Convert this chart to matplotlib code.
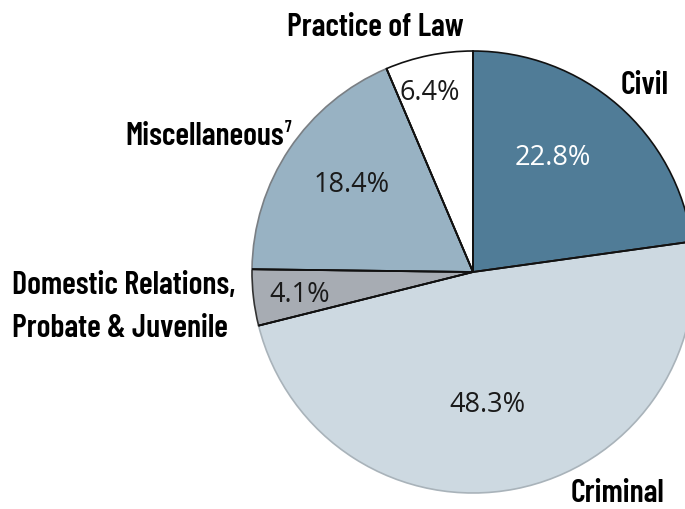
import numpy as np
import matplotlib
matplotlib.use("Agg")
import matplotlib.pyplot as plt

categories = ["Civil", "Criminal", "Domestic Relations,\nProbate & Juvenile", "Miscellaneous", "Practice of Law"]
values = [22.8, 48.3, 4.1, 18.4, 6.4]
pct_labels = ["22.8%", "48.3%", "4.1%", "18.4%", "6.4%"]
colors = ["#507c97", "#cdd9e1", "#a7acb3", "#98b2c3", "#ffffff"]
outer_edges = ["#111111", "#a9b3ba", "#333333", "#7a7f84", "#111111"]

W, H = 685, 510
R = 221.0
cx, cy = 473.0, 273.0

fig = plt.figure(figsize=(W / 100, H / 100), dpi=100)
ax = fig.add_axes([0, 0, 1, 1])

def px(x, y):
    return ((x - cx) / R, (cy - y) / R)

wedges, _ = ax.pie(values, colors=colors, startangle=90, counterclock=False,
                   radius=1.0, center=(0, 0), frame=False,
                   wedgeprops=dict(linewidth=1.2))
ax.set_xlim(-cx / R, (W - cx) / R)
ax.set_ylim(-(H - cy) / R, cy / R)
ax.set_aspect("auto")
ax.axis("off")
for w, ec in zip(wedges, outer_edges):
    w.set_edgecolor(ec)

# radial separators in black
for w in wedges:
    for ang in (w.theta1, w.theta2):
        a = np.deg2rad(ang)
        ax.plot([0, np.cos(a)], [0, np.sin(a)], color="#111111", lw=1.3,
                zorder=5, solid_capstyle="butt")

lab_font = dict(family=["Barlow Condensed", "DejaVu Sans"], fontweight="semibold",
                fontsize=23, color="black")
pct_font = dict(family=["Open Sans", "DejaVu Sans"], fontsize=19.5)

# category labels
ax.text(*px(645, 85), categories[0], ha="center", va="center", **lab_font)
ax.text(*px(618, 494), categories[1], ha="center", va="center", **lab_font)
ax.text(*px(12, 307), categories[2], ha="left", va="center", linespacing=1.6, **lab_font)
ax.text(*px(284, 137), categories[3], ha="right", va="center", **lab_font)
ax.text(*px(285, 127), "7", ha="left", va="center",
        **{**lab_font, "fontsize": 12})
ax.text(*px(375, 27), categories[4], ha="center", va="center", **lab_font)

# percent labels
pct_pos = [(553, 158), (487, 405), (300, 295), (352, 185), (430, 93)]
pct_col = ["white", "#1a1a1a", "#1a1a1a", "#1a1a1a", "#1a1a1a"]
for (x, y), t, c in zip(pct_pos, pct_labels, pct_col):
    ax.text(*px(x, y), t, ha="center", va="center", color=c, zorder=6, **pct_font)

fig.savefig("out.png", dpi=100)
